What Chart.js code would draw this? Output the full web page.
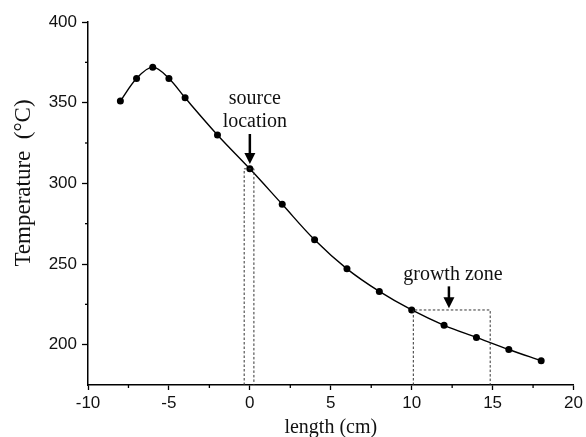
<!DOCTYPE html>
<html>
<head>
<meta charset="utf-8">
<script src="https://cdn.jsdelivr.net/npm/chart.js@4/dist/chart.umd.min.js"></script>
<style>
  html, body { margin: 0; padding: 0; background: #fff; }
  #wrap { width: 586px; height: 437px; }
</style>
</head>
<body>
<div id="wrap"><canvas id="tempChart" width="586" height="437"></canvas></div>
<script>
// data
const lengthCm = [-8, -7, -6, -5, -4, -2, 0, 2, 4, 6, 8, 10, 12, 14, 16, 18]
const temperature = [351, 365, 372, 365, 353, 330, 309, 287, 265, 247, 233, 221.5, 212, 204.5, 197, 190]

const xTicks = [-10, -5, 0, 5, 10, 15, 20]
const yTicks = [200, 250, 300, 350, 400]

// dashed boxes: [x left, x right, top value]
const sourceBox = [-0.35, 0.25, 309]
const growthBox = [10.1, 14.85, 221.5]
// labels: text lines, x value, y value of arrow tip
const sourceLabel = { lines: ["source", "location"], x: 0, tip: 312 }
const growthLabel = { lines: ["growth zone"], x: 12.3, tip: 222.5 }
const yTitle = "Temperature  (°C)"

const serif = "'Liberation Serif', 'Times New Roman', serif"
const sans = "'Liberation Sans', Arial, sans-serif"

function drawArrow(ctx, x, yTop, yTip) {
    ctx.save()
    ctx.fillStyle = "#000"
    ctx.strokeStyle = "#000"
    ctx.lineWidth = 2.5
    ctx.beginPath()
    ctx.moveTo(x, yTop)
    ctx.lineTo(x, yTip - 9)
    ctx.stroke()
    ctx.beginPath()
    ctx.moveTo(x - 5.5, yTip - 11)
    ctx.lineTo(x + 5.5, yTip - 11)
    ctx.lineTo(x, yTip)
    ctx.closePath()
    ctx.fill()
    ctx.restore()
}

const annotations = {
    id: "annotations",
    afterDatasetsDraw(chart) {
        const ctx = chart.ctx
        const xs = chart.scales.x
        const ys = chart.scales.y
        const bottom = chart.chartArea.bottom

        ctx.save()
        ctx.strokeStyle = "#333"
        ctx.lineWidth = 1
        ctx.setLineDash([2.5, 2])
        ;[sourceBox, growthBox].forEach((b) => {
            const l = xs.getPixelForValue(b[0])
            const r = xs.getPixelForValue(b[1])
            const t = ys.getPixelForValue(b[2])
            ctx.beginPath()
            ctx.moveTo(l, bottom)
            ctx.lineTo(l, t)
            ctx.lineTo(r, t)
            ctx.lineTo(r, bottom)
            ctx.stroke()
        })
        ctx.restore()

        ctx.save()
        ctx.fillStyle = "#111"
        ctx.font = "20px " + serif
        ctx.textAlign = "center"
        ctx.textBaseline = "middle"

        let sx = xs.getPixelForValue(sourceLabel.x)
        let sTip = ys.getPixelForValue(sourceLabel.tip)
        ctx.fillText(sourceLabel.lines[0], sx + 5, sTip - 65)
        ctx.fillText(sourceLabel.lines[1], sx + 5, sTip - 42)
        drawArrow(ctx, sx, sTip - 30, sTip)

        let gx = xs.getPixelForValue(growthLabel.x)
        let gTip = ys.getPixelForValue(growthLabel.tip)
        ctx.fillText(growthLabel.lines[0], gx + 4, gTip - 34)
        drawArrow(ctx, gx, gTip - 22, gTip)

        // y title sits a bit above the middle of the axis in the original
        ctx.font = "23px " + serif
        ctx.translate(24, 183)
        ctx.rotate(-Math.PI / 2)
        ctx.fillText(yTitle, 0, 0)
        ctx.restore()

        // short minor ticks halfway between labelled ticks
        ctx.save()
        ctx.strokeStyle = "#000"
        ctx.lineWidth = 1.3
        const left = chart.chartArea.left
        ys.ticks.forEach((t) => {
            if (t.value % 50 != 0 && t.value != ys.min) {
                const y = ys.getPixelForValue(t.value)
                ctx.beginPath()
                ctx.moveTo(left - 3, y)
                ctx.lineTo(left, y)
                ctx.stroke()
            }
        })
        xs.ticks.forEach((t) => {
            if (t.value % 5 != 0) {
                const x = xs.getPixelForValue(t.value)
                ctx.beginPath()
                ctx.moveTo(x, bottom)
                ctx.lineTo(x, bottom + 3)
                ctx.stroke()
            }
        })
        ctx.restore()
    }
}

const points = lengthCm.map((x, i) => ({ x: x, y: temperature[i] }))

new Chart(document.getElementById("tempChart"), {
    type: "line",
    data: {
        datasets: [{
            label: "Temperature",
            data: points,
            borderColor: "#000",
            backgroundColor: "#000",
            borderWidth: 1.4,
            pointRadius: 3.5,
            pointBorderWidth: 0,
            tension: 0.35
        }]
    },
    options: {
        responsive: false,
        animation: false,
        layout: { padding: { top: 22, right: 8, left: 0, bottom: 0 } },
        plugins: {
            legend: { display: false },
            tooltip: { enabled: false }
        },
        scales: {
            x: {
                type: "linear",
                min: -10,
                max: 20,
                afterBuildTicks: (axis) => {
                    const t = []
                    for (let v = -10; v <= 20; v += 2.5) t.push({ value: v })
                    axis.ticks = t
                },
                afterFit: (axis) => { axis.height = 52 },
                grid: {
                    drawOnChartArea: false,
                    tickLength: 5,
                    tickWidth: 1.3,
                    tickColor: (c) => (xTicks.includes(c.tick.value) ? "#000" : "rgba(0,0,0,0)")
                },
                border: { color: "#000", width: 1.5 },
                ticks: {
                    color: "#111",
                    padding: 3,
                    maxRotation: 0,
                    autoSkip: false,
                    font: { family: sans, size: 17 },
                    callback: (v) => (xTicks.includes(v) ? String(v) : "")
                },
                title: {
                    display: true,
                    text: "length (cm)",
                    color: "#111",
                    font: { family: serif, size: 20 },
                    padding: { top: 0, bottom: -3 }
                }
            },
            y: {
                min: 175,
                max: 400,
                ticks: {
                    stepSize: 25,
                    color: "#111",
                    padding: 5,
                    font: { family: sans, size: 17 },
                    callback: (v) => (yTicks.includes(v) ? String(v) : "")
                },
                afterFit: (axis) => { axis.width = 88 },
                grid: {
                    drawOnChartArea: false,
                    tickLength: 6,
                    tickWidth: 1.3,
                    tickColor: (c) => (yTicks.includes(c.tick.value) ? "#000" : "rgba(0,0,0,0)")
                },
                border: { color: "#000", width: 1.5 },
                title: { display: false }
            }
        }
    },
    plugins: [annotations]
})
</script>
</body>
</html>
